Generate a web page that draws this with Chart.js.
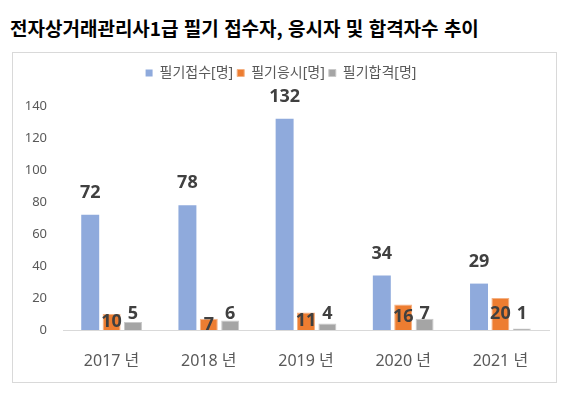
<!DOCTYPE html>
<html lang="ko">
<head>
<meta charset="utf-8">
<script src="https://cdn.jsdelivr.net/npm/chart.js@4"></script>
<style>
  html, body { margin: 0; padding: 0; background: #fff; }
  body { width: 573px; height: 395px; position: relative; overflow: hidden; }
  #titre {
    position: absolute; left: 10px; top: 14px;
    font: bold 19px "Noto Sans CJK KR", "Noto Sans", sans-serif;
    color: #000; white-space: nowrap;
  }
  #cadre {
    position: absolute; left: 12px; top: 52px; width: 545px; height: 331px;
    border: 1px solid #d9d9d9; box-sizing: border-box;
  }
  #cadre canvas { display: block; }
</style>
</head>
<body>
<div id="titre">전자상거래관리사1급 필기 접수자, 응시자 및 합격자수 추이</div>
<div id="cadre"><canvas id="chart" width="543" height="329"></canvas></div>
<script>
// Données
const annees = ['2017 년', '2018 년', '2019 년', '2020 년', '2021 년'];
const nomsSeries = ['필기접수[명]', '필기응시[명]', '필기합격[명]'];
const inscrits = [72, 78, 132, 34, 29];
const candidats = [10, 7, 11, 16, 20];
const admis = [5, 6, 4, 7, 1];
const ticksY = [0, 20, 40, 60, 80, 100, 120, 140];

const couleurs = ['#8FAADC', '#ED7D31', '#A5A5A5'];
const bords = ['#8FAADC', '#F4B183', '#C9C9C9'];
const gris = '#595959';
const police = '"Noto Sans", "Noto Sans CJK KR", sans-serif';

// --- Étiquettes de valeurs (positions différentes selon la série) ---
const etiquettes = {
  id: 'etiquettes',
  afterDatasetsDraw(chart) {
    const ctx = chart.ctx;
    ctx.save();
    ctx.font = 'bold 18px ' + police;
    ctx.fillStyle = '#404040';
    ctx.textAlign = 'center';
    ctx.textBaseline = 'middle';
    chart.data.datasets.forEach((ds, i) => {
      chart.getDatasetMeta(i).data.forEach((bar, j) => {
        let y;
        if (i === 0) y = bar.y - 22;
        else if (i === 1) y = (bar.y + bar.base) / 2;
        else y = bar.base - 16;
        ctx.fillText(String(ds.data[j]), bar.x, y);
      });
    });
    ctx.restore();
  },
};

// --- Espace supplémentaire sous la légende ---
const margeLegende = {
  id: 'margeLegende',
  beforeInit(chart) {
    const legende = chart.legend;
    if (!legende) return;
    const fitOrig = legende.fit.bind(legende);
    legende.fit = function () {
      fitOrig();
      this.height += 16;
    };
  },
};

new Chart(document.getElementById('chart'), {
  type: 'bar',
  data: {
    labels: annees,
    datasets: [inscrits, candidats, admis].map((valeurs, i) => ({
      label: nomsSeries[i],
      data: valeurs,
      backgroundColor: couleurs[i],
      borderColor: bords[i],
      borderWidth: i === 0 ? 0 : 1,
      categoryPercentage: 0.66,
      barPercentage: 0.84,
    })),
  },
  options: {
    responsive: false,
    animation: false,
    layout: { padding: { left: 0, right: 7, top: 9, bottom: 0 } },
    plugins: {
      tooltip: { enabled: false },
      legend: {
        position: 'top',
        labels: {
          boxWidth: 7, boxHeight: 7, padding: 4,
          color: gris,
          font: { size: 14, family: police },
        },
      },
    },
    scales: {
      y: {
        min: 0, max: 140,
        afterBuildTicks: (axis) => { axis.ticks = ticksY.map(v => ({ value: v })); },
        afterFit: (axis) => { axis.width = 50; },
        grid: { display: false, drawTicks: false },
        border: { display: false },
        ticks: { color: gris, padding: 16, font: { size: 13, family: police } },
      },
      x: {
        afterFit: (axis) => { axis.height = 52; },
        grid: { display: false, drawTicks: false },
        border: { display: true, color: '#d9d9d9' },
        ticks: { color: gris, padding: 22, font: { size: 16, family: police } },
      },
    },
  },
  plugins: [etiquettes, margeLegende],
});
</script>
</body>
</html>
